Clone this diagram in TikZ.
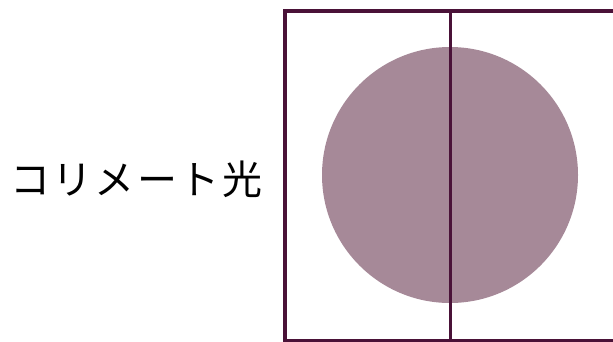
\documentclass[tikz,border=0pt]{standalone}
\usepackage{fontspec}
\newfontfamily\cjk[LetterSpace=6]{Noto Sans CJK JP}
\usetikzlibrary{positioning}
\definecolor{myframe}{RGB}{74,18,56}
\definecolor{mybeam}{RGB}{166,137,152}

\begin{document}
\begin{tikzpicture}[x=1pt,y=-1pt]
  \useasboundingbox (0,0) rectangle (613,341);
  \clip (0,0) rectangle (613,341);
  % beam cross section
  \node[circle, fill=mybeam, minimum size=256pt, inner sep=0pt] (beam) at (450,175) {};
  % frame and centre line
  \draw[myframe, line width=4pt] (285,11) rectangle (615,341);
  \coordinate (top) at (450,11);
  \coordinate (bottom) at (450,341);
  \draw[myframe, line width=3pt] (top) -- (bottom);
  % label
  \node[font={\cjk\fontsize{40}{48}\selectfont}] (label) at (136,179) {コリメート光};
\end{tikzpicture}
\end{document}
